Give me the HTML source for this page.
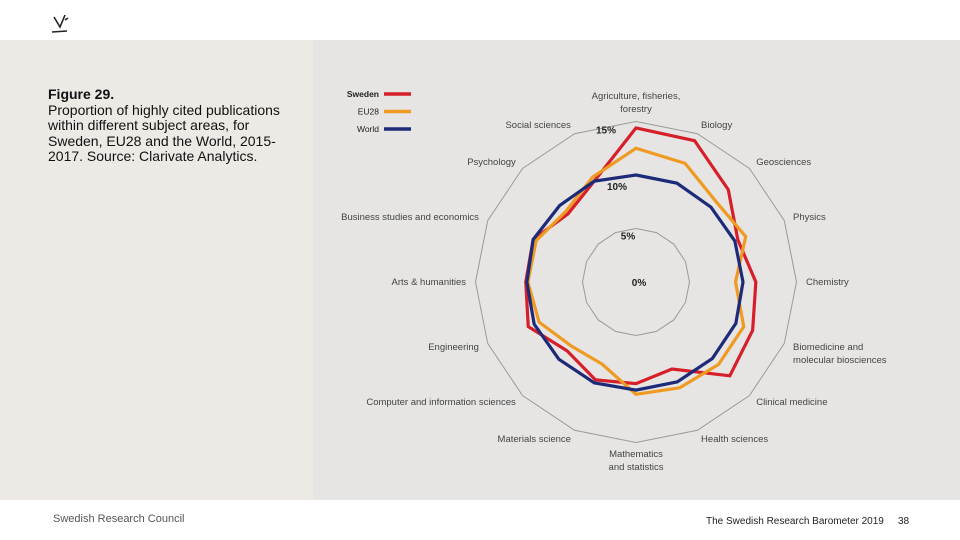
<!DOCTYPE html>
<html><head><meta charset="utf-8">
<style>
body{margin:0;width:960px;height:540px;overflow:hidden;background:#fff;font-family:"Liberation Sans",sans-serif;position:relative}
#left{position:absolute;left:0;top:40px;width:313px;height:460px;background:#edeae6}
#right{position:absolute;left:313px;top:40px;width:647px;height:460px;background:#e6e5e4}
#caption{position:absolute;left:48px;top:87px;font-size:14px;line-height:15.5px;color:#111}
svg{position:absolute;left:0;top:0}
.foot{position:absolute;font-size:10px;color:#222}
</style></head><body>
<div id="left"></div>
<div id="right"></div>
<div id="caption"><b>Figure 29.</b><br>Proportion of highly cited publications<br>within different subject areas, for<br>Sweden, EU28 and the World, 2015-<br>2017. Source: Clarivate Analytics.</div>
<svg width="960" height="540" id="chart">
<g stroke="#222" stroke-width="1.6" fill="none">
<path d="M54 17 L60 27 L65 15"/><path d="M65 20 L68 18"/><path d="M52 32 L67 31"/>
</g>
</svg>
<div class="foot" style="left:53px;top:513px;color:#555;font-size:11px">Swedish Research Council</div>
<div class="foot" style="left:706px;top:516px">The Swedish Research Barometer 2019</div>
<div class="foot" style="left:898px;top:516px">38</div>
<script>
const categories=["Agriculture, fisheries,|forestry","Biology","Geosciences","Physics","Chemistry","Biomedicine and|molecular biosciences","Clinical medicine","Health sciences","Mathematics|and statistics","Materials science","Computer and information sciences","Engineering","Arts & humanities","Business studies and economics","Psychology","Social sciences"];
const sweden=[14.4,14.3,12.2,10.3,11.2,11.8,12.4,8.8,9.5,9.9,9.1,10.9,10.3,10.4,9.0,10.2];
const eu28=[12.5,12.0,10.6,11.1,9.3,10.9,10.9,10.7,10.5,8.3,8.5,9.8,10.1,10.1,9.3,10.6];
const world=[10.0,10.0,9.9,10.0,10.0,10.1,10.1,10.1,10.1,10.2,10.2,10.3,10.2,10.4,10.1,10.2];
const ringValues=[5,15];
const tickLabels=["15%","10%","5%","0%"];
const tickValues=[15,10,5,0];
const seriesNames=["Sweden","EU28","World"];
const NS="http://www.w3.org/2000/svg";
const svg=document.getElementById('chart');
const cx=636,cy=282,k=10.7,N=categories.length;
function ang(i){return -Math.PI/2+i*2*Math.PI/N;}
function pt(i,v){const a=ang(i);return [cx+Math.cos(a)*v*k,cy+Math.sin(a)*v*k];}
function mk(t,attrs){const e=document.createElementNS(NS,t);for(const a in attrs)e.setAttribute(a,attrs[a]);svg.appendChild(e);return e;}
ringValues.forEach((v,j)=>{
 const p=categories.map((c,i)=>pt(i,v).join(',')).join(' ');
 const e=mk('polygon',{points:p,fill:'none',stroke:'#9a9a9a','stroke-width':1});
 
 
});
const colors=["#d71f2a","#ef9a22","#1d2a78"];
[sweden,eu28,world].forEach((s,j)=>{
 const p=s.map((v,i)=>pt(i,v).join(',')).join(' ');
 const e=mk('polygon',{points:p,fill:'none',stroke:colors[j],'stroke-width':3.2,'stroke-linejoin':'miter'});
 
 
});
tickValues.forEach((v,j)=>{
 const y=cy-v*k+ (v==0?4:v==15?12:v==10?15:11);
 const x=cx-v*2.2+ (v==0?3:v==10?3:3);
 const t=mk('text',{x:x,y:y,'font-size':10,'font-weight':'bold','text-anchor':'middle',fill:'#222'});
 t.textContent=tickLabels[j];
 
 
});
categories.forEach((c,i)=>{
 const a=ang(i),r=170;
 const cs=Math.cos(a),sn=Math.sin(a);
 let x=cx+cs*r,y=cy+sn*r;
 const anchor=Math.abs(cs)<0.2?'middle':(cs>0?'start':'end');
 const lines=c.split('|');
 if(Math.abs(cs)<0.2&&sn<0)y-=lines.length*13-10;
 if(Math.abs(cs)<0.2&&sn>0)y+=2;
 const t=mk('text',{x:x,y:y+3,'font-size':9.5,fill:'#444','text-anchor':anchor});
 lines.forEach((l,m)=>{const ts=document.createElementNS(NS,'tspan');ts.setAttribute('x',x);if(m)ts.setAttribute('dy',13);ts.textContent=l;t.appendChild(ts);});
 
 
});
seriesNames.forEach((n,j)=>{
 const y=97+j*17.5;
 const t=mk('text',{x:379,y:y,'font-size':8.5,'text-anchor':'end',fill:'#222','font-weight':j==0?'bold':'normal'});
 t.textContent=n;
 
 
 const l=mk('line',{x1:384,x2:411,y1:y-3,y2:y-3,stroke:colors[j],'stroke-width':3.5});
 
 
});
</script>
</body></html>
